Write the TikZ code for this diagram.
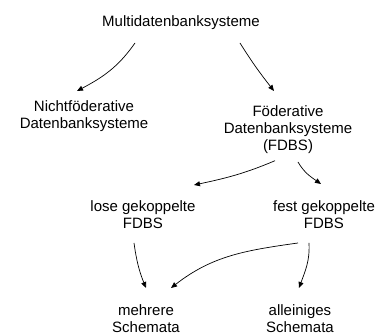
\documentclass[tikz,border=0pt]{standalone}
\usepackage{fontspec}
\setmainfont{Liberation Sans}
\usetikzlibrary{arrows.meta}
\begin{document}
\begin{tikzpicture}[x=1pt,y=1pt,
  term/.style={align=center,inner sep=0pt,font=\fontsize{15}{17}\selectfont},
  link/.style={line width=0.7pt,-{Triangle[length=6pt,width=5pt]}}]
\useasboundingbox (0,0) rectangle (384,336);

% classification tree
\node[term] (mdbs)   at (181,313.5) {Multidatenbanksysteme};
\node[term] (nfdbs)  at (84,219.5)  {Nichtföderative\\Datenbanksysteme};
\node[term] (fdbs)   at (288,206.5) {Föderative\\Datenbanksysteme\\(FDBS)};
\node[term] (lose)   at (143,121)   {lose gekoppelte\\FDBS};
\node[term] (fest)   at (324,121)   {fest gekoppelte\\FDBS};
\node[term] (mehr)   at (146,17.5)  {mehrere\\Schemata};
\node[term] (allein) at (300,17.5)  {alleiniges\\Schemata};

% arrows between the categories
\draw[link] ([shift={(-46,-20.5)}]mdbs.center) to[out=235,in=28] ([shift={(-7,25.5)}]nfdbs.center);
\draw[link] ([shift={(59,-20.5)}]mdbs.center)  to[out=-58,in=128] ([shift={(-14,38.5)}]fdbs.center);
\draw[link] ([shift={(-13,-31.2)}]fdbs.center) to[out=203,in=12] ([shift={(51,30)}]lose.center);
\draw[link] ([shift={(10,-32.5)}]fdbs.center)  to[out=-60,in=145] ([shift={(-3,31)}]fest.center);
\draw[link] ([shift={(-9,-28)}]lose.center)    to[out=-82,in=112] ([shift={(0,30.5)}]mehr.center);
\draw[link] ([shift={(-26,-28)}]fest.center)   to[out=188,in=38] ([shift={(25,30.5)}]mehr.center);
\draw[link] ([shift={(-15,-28)}]fest.center)   to[out=-87,in=70] ([shift={(-1,30.5)}]allein.center);
\end{tikzpicture}
\end{document}
